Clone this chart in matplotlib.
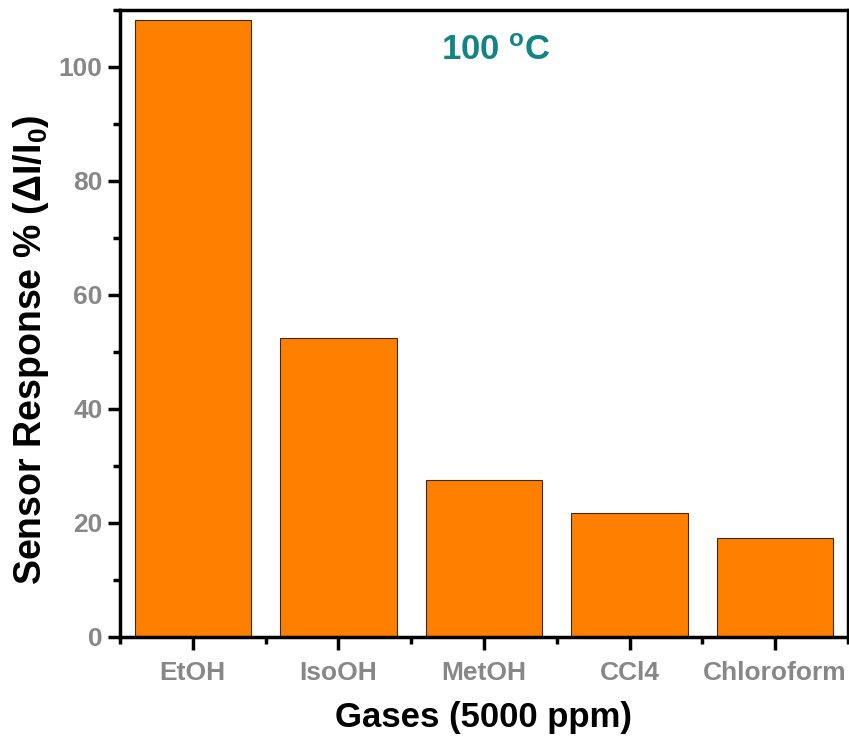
import matplotlib
matplotlib.use('Agg')
import matplotlib.pyplot as plt
from matplotlib.ticker import MultipleLocator, FixedLocator

gases = ['EtOH', 'IsoOH', 'MetOH', 'CCl4', 'Chloroform']
response = [108.2, 52.5, 27.5, 21.8, 17.4]

fam = 'Liberation Sans'
plt.rcParams['font.family'] = [fam, 'DejaVu Sans']
plt.rcParams['mathtext.fontset'] = 'custom'
plt.rcParams['mathtext.rm'] = fam
plt.rcParams['mathtext.bf'] = fam + ':bold'

fig = plt.figure(figsize=(8.49, 7.41), dpi=100)
ax = fig.add_axes([0.1413, 0.1404, 0.8575, 0.8461])

pos = list(range(1, len(gases) + 1))
ax.bar(pos, response, width=0.8, color='#ff7f00', edgecolor='#3a2a1a', linewidth=0.8)

ax.set_xlim(0.5, 5.5)
ax.set_ylim(0, 110)
ax.set_xticks(pos)
ax.set_xticklabels(gases)
ax.xaxis.set_minor_locator(FixedLocator([0.5, 1.5, 2.5, 3.5, 4.5, 5.5]))
ax.yaxis.set_major_locator(MultipleLocator(20))
ax.yaxis.set_minor_locator(MultipleLocator(10))

for s in ax.spines.values():
    s.set_linewidth(2.5)
ax.tick_params(which='major', direction='out', length=9, width=2.5,
               labelsize=19, labelcolor='#878787')
ax.tick_params(axis='x', which='major', pad=8)
ax.tick_params(which='minor', direction='out', length=5, width=2.5)
for lab in ax.get_xticklabels() + ax.get_yticklabels():
    lab.set_fontweight('bold')

ax.set_xlabel('Gases (5000 ppm)', fontsize=25, fontweight='bold', labelpad=12)
ax.set_ylabel(r'Sensor Response % ($\mathbf{\Delta I/I_0}$)', fontsize=27,
              fontweight='bold')
ax.yaxis.set_label_coords(-0.095, 0.458)

ax.text(0.516, 0.936, r'100 $\mathbf{^oC}$', transform=ax.transAxes, ha='center',
        va='center', fontsize=25, fontweight='bold', color='#138484')

fig.savefig('out.png', dpi=100)
